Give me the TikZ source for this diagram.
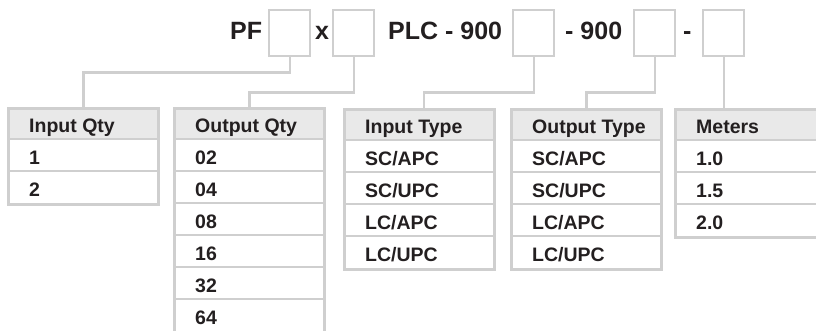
\documentclass[tikz,border=0pt]{standalone}
\usepackage{fontspec}
\setmainfont{Liberation Sans}
\definecolor{linegray}{HTML}{CFCFCF}
\definecolor{headfill}{HTML}{E9E9E9}
\definecolor{ink}{HTML}{231F20}
\tikzset{
  connector/.style={draw=linegray, line width=2.4pt},
  slotbox/.style={draw=linegray, line width=2.4pt, minimum width=41pt, minimum height=46pt, inner sep=0pt, anchor=north west},
  toptext/.style={font=\fontsize{25}{29}\selectfont\bfseries, text=ink, inner sep=0pt, anchor=base west},
  tablebox/.style={draw=linegray, line width=2.6pt, minimum width=150pt, inner sep=0pt, anchor=north west},
  rowrule/.style={draw=linegray, line width=2.6pt},
  celltext/.style={font=\fontsize{19.5}{23}\selectfont\bfseries, text=ink, inner sep=0pt, anchor=base west},
}
% #1 name, #2 x, #3 y, #4 header, #5 rows, #6 number of rows
\newcommand\spectable[6]{%
  \begin{scope}[shift={(#2,#3)}]
    \fill[headfill] (0,0) rectangle (150,32);
    \node[celltext] (#1-h) at (22,25) {#4};
    \foreach \t [count=\i] in {#5} {
      \draw[rowrule] (0,32*\i) -- (150,32*\i);
      \node[celltext] (#1-\i) at (22,32*\i+25) {\t};
    }
    \pgfmathsetmacro\tabh{32*(#6+1)}
    \node[tablebox, minimum height=\tabh pt] (#1) at (0,0) {};
  \end{scope}}
\begin{document}
\begin{tikzpicture}[x=1pt, y=-1pt]
  \useasboundingbox (0,0) rectangle (816,330);
  % top code line
  \node[toptext] (pf) at (230,39) {PF};
  \node[slotbox] (b1) at (268,9) {};
  \node[toptext] (x) at (315,39) {x};
  \node[slotbox] (b2) at (332,9) {};
  \node[toptext] (plc) at (388,39) {PLC - 900};
  \node[slotbox] (b3) at (512,9) {};
  \node[toptext] (n900) at (565,39) {- 900};
  \node[slotbox] (b4) at (633,9) {};
  \node[toptext] (dash) at (683,39) {-};
  \node[slotbox] (b5) at (702,9) {};
  % tables
  \spectable{t1}{7}{107}{Input Qty}{1,2}{2}
  \spectable{t2}{173}{107}{Output Qty}{02,04,08,16,32,64}{6}
  \spectable{t3}{343}{108}{Input Type}{SC/APC,SC/UPC,LC/APC,LC/UPC}{4}
  \spectable{t4}{510}{108}{Output Type}{SC/APC,SC/UPC,LC/APC,LC/UPC}{4}
  \spectable{t5}{674}{108}{Meters}{1.0,1.5,2.0}{3}
  % connectors
  \draw[connector] (b1.south) -- ++(0,15) -| (t1.north);
  \draw[connector] (b2.south) -- ++(0,35) -| (t2.north);
  \draw[connector] (b3.south) -- ++(0,35) -| ([xshift=81pt]t3.north west);
  \draw[connector] (b4.south) -- ++(0,35) -| (t4.north);
  \draw[connector] (b5.south) -- (b5.south |- t5.north);
\end{tikzpicture}
\end{document}
